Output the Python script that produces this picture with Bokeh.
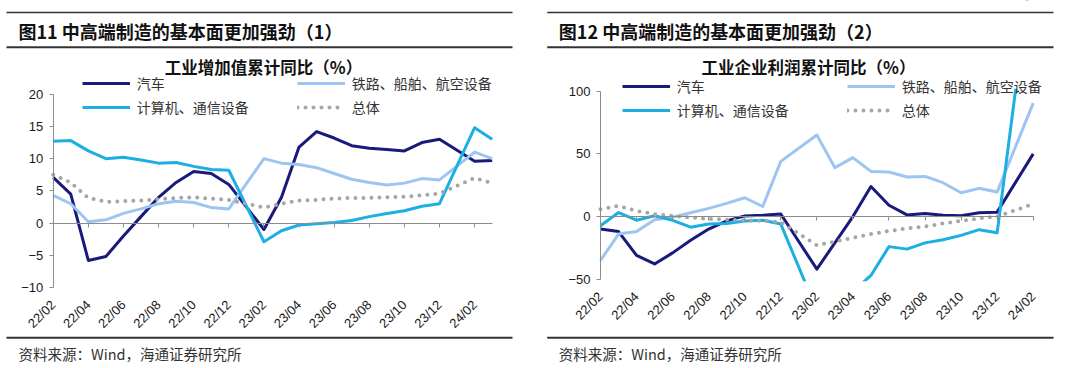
from math import pi
from bokeh.plotting import figure
from bokeh.models import (Range1d, LinearAxis, FixedTicker, Label,
                          Legend, LegendItem, BoxAnnotation, ColumnDataSource)
from bokeh.layouts import row
from bokeh.embed import file_html
from bokeh.resources import INLINE

# ---------------- data ----------------
left_title = "图11 中高端制造的基本面更加强劲（1）"
left_subtitle = "工业增加值累计同比（%）"
left_months = ["22/02", "22/03", "22/04", "22/05", "22/06", "22/07", "22/08", "22/09", "22/10", "22/11", "22/12",
               "23/02", "23/03", "23/04", "23/05", "23/06", "23/07", "23/08", "23/09", "23/10", "23/11", "23/12",
               "24/02", "24/03"]
left_auto = [7.1, 4.5, -5.8, -5.2, -2.0, 1.0, 4.0, 6.3, 8.0, 7.7, 6.0,
             -1.0, 4.0, 11.8, 14.2, 13.2, 12.0, 11.6, 11.4, 11.2, 12.5, 13.0,
             9.6, 9.7]
left_rail = [4.3, 3.0, 0.2, 0.5, 1.5, 2.2, 3.0, 3.4, 3.2, 2.4, 2.2,
             10.0, 9.3, 9.1, 8.6, 7.7, 6.8, 6.3, 5.9, 6.2, 6.9, 6.7,
             11.0, 10.0]
left_it = [12.7, 12.8, 11.2, 10.0, 10.2, 9.8, 9.3, 9.4, 8.8, 8.3, 8.2,
           -2.9, -1.2, -0.3, -0.1, 0.1, 0.4, 1.0, 1.5, 1.9, 2.6, 3.0,
           14.8, 13.0]
left_total = [7.5, 6.3, 3.9, 3.3, 3.4, 3.5, 3.7, 3.9, 4.0, 3.8, 3.6,
              2.4, 3.0, 3.5, 3.6, 3.8, 3.9, 3.9, 4.0, 4.1, 4.3, 4.6,
              7.0, 6.2]
left_yticks = [-10, -5, 0, 5, 10, 15, 20]

right_title = "图12 中高端制造的基本面更加强劲（2）"
right_subtitle = "工业企业利润累计同比（%）"
right_months = ["22/02", "22/03", "22/04", "22/05", "22/06", "22/07", "22/08", "22/09", "22/10", "22/11", "22/12",
                "23/02", "23/03", "23/04", "23/05", "23/06", "23/07", "23/08", "23/09", "23/10", "23/11", "23/12",
                "24/02"]
right_auto = [-10, -12, -31, -37.8, -29, -19, -10, -3.5, 0.5, 1.0, 2.0,
              -42, -21, 0, 24, 9, 1.3, 2.4, 1.0, 0.6, 3.0, 3.5,
              50]
right_rail = [-35, -14, -12, -2.5, -0.5, 3, 6.5, 10.5, 15, 8, 44,
              65, 39, 47, 36, 35.5, 31.5, 32, 27, 19, 22.5, 19.5,
              90.5]
right_it = [-7.4, 3.2, -2.9, 0.6, -3, -8.5, -6, -5.5, -3.5, -3, -6,
            -75, -58, -60, -47, -24, -26, -21, -18.5, -15, -10.5, -13,
            210]
right_total = [5.9, 8.5, 4.5, 1.9, 0.6, -0.8, -1.8, -2.6, -3.0, -3.4, -4.5,
               -22.9, -20, -17, -14, -11.5, -9.5, -8, -5.5, -3.5, -1.5, 0,
               10]
right_yticks = [-50, 0, 50, 100]

tick_labels = ["22/02", "22/04", "22/06", "22/08", "22/10", "22/12", "23/02",
               "23/04", "23/06", "23/08", "23/10", "23/12", "24/02"]

names = ["汽车", "铁路、船舶、航空设备", "计算机、通信设备", "总体"]
source_text = "资料来源：Wind，海通证券研究所"

# ---------------- styling ----------------
NAVY = "#1A1A7C"
LIGHT = "#9DC5F2"
CYAN = "#1CAFE3"
GRAY = "#A6A6A6"
AXIS = "#8C8C8C"
RULE = "#333333"
CJK = "Noto Sans CJK SC"
LAT = "Liberation Sans"

FW, FH = 538, 366


def line_style(color, dotted):
    if dotted:
        return dict(line_color=color, line_width=4, line_dash="0 8", line_cap="round")
    return dict(line_color=color, line_width=3, line_join="round")


def midx(m):
    yy, mm = m.split("/")
    return (int(yy) - 22) * 12 + int(mm) - 2


def make_panel(title, subtitle, months, series, yticks, ylo, yhi,
               ox, X0, X1, Y_hi, Y_lo, legA_x, legB_x, row1_c, row2_c,
               sub_x, title_x, rule_x1, rule_x2):
    xs = [midx(m) for m in months]
    xmax = max(xs)
    sx = (X1 - X0) / xmax
    sy = (Y_lo - Y_hi) / (yhi - ylo)

    def dx(X):
        return (X - X0) / sx

    def dy(Y):
        return ylo + (Y_lo - Y) / sy

    p = figure(width=FW, height=FH, output_backend="svg", toolbar_location=None,
               x_range=Range1d(dx(ox), dx(ox + FW)), y_range=Range1d(dy(FH), dy(0)),
               x_axis_type=None, y_axis_type=None, min_border=0)
    if p.title is not None:
        p.title.visible = False
    p.outline_line_color = None
    p.background_fill_color = "white"
    p.border_fill_color = "white"

    # data lines
    rs = []
    for (name, vals, color, dotted) in series:
        src = ColumnDataSource(dict(x=xs, y=vals))
        rs.append((name, p.line("x", "y", source=src, **line_style(color, dotted))))

    # white masks outside the plot area (Excel clips the series at the plot-area edges)
    p.add_layout(BoxAnnotation(left=0, right=xmax + 0.5, bottom=dy(Y_hi - 2.5), top=dy(0),
                               fill_color="white", fill_alpha=1, line_color=None,
                               level="guide"))
    p.add_layout(BoxAnnotation(left=0, right=xmax + 0.5, bottom=dy(FH), top=dy(Y_lo + 2),
                               fill_color="white", fill_alpha=1, line_color=None,
                               level="guide"))

    # y axis
    yaxis = LinearAxis(ticker=FixedTicker(ticks=yticks), bounds=(ylo, yhi), fixed_location=0)
    yaxis.level = "annotation"
    yaxis.axis_line_color = AXIS
    yaxis.major_tick_line_color = AXIS
    yaxis.major_tick_out = 4
    yaxis.major_tick_in = 0
    yaxis.minor_tick_line_color = None
    yaxis.major_label_text_font = LAT
    yaxis.major_label_text_font_size = "13px"
    yaxis.major_label_text_color = "#1a1a1a"
    yaxis.major_label_standoff = 6
    p.add_layout(yaxis, "left")

    tx = [midx(t) for t in tick_labels]
    # horizontal axis line crossing at zero, with tick marks
    zaxis = LinearAxis(ticker=FixedTicker(ticks=tx), bounds=(0, xmax), fixed_location=0,
                       major_label_overrides={v: "" for v in tx})
    zaxis.level = "annotation"
    zaxis.axis_line_color = AXIS
    zaxis.major_tick_line_color = AXIS
    zaxis.major_tick_out = 4
    zaxis.major_tick_in = 0
    zaxis.minor_tick_line_color = None
    p.add_layout(zaxis, "below")

    # category labels at the bottom of the plot area
    xaxis = LinearAxis(ticker=FixedTicker(ticks=tx), fixed_location=ylo,
                       major_label_overrides={v: t for v, t in zip(tx, tick_labels)})
    xaxis.level = "annotation"
    xaxis.axis_line_color = None
    xaxis.major_tick_line_color = None
    xaxis.major_tick_out = 0
    xaxis.major_tick_in = 0
    xaxis.minor_tick_line_color = None
    xaxis.major_label_orientation = pi / 4
    xaxis.major_label_text_font = LAT
    xaxis.major_label_text_font_size = "13px"
    xaxis.major_label_text_color = "#1a1a1a"
    xaxis.major_label_standoff = 15
    p.add_layout(xaxis, "below")

    # legends (one item each, placed like the Excel legend grid)
    def legend(item, X, row_c):
        name, r = item
        lg = Legend(items=[LegendItem(label=name, renderers=[r])],
                    location=(X - ox, FH - (row_c + 10)), orientation="horizontal",
                    glyph_width=48, glyph_height=20, label_height=20,
                    label_standoff=7, spacing=0, padding=0, margin=0,
                    border_line_alpha=0, background_fill_alpha=0,
                    label_text_font=CJK, label_text_font_size="14px",
                    label_text_color="#333333")
        p.add_layout(lg)

    legend(rs[0], legA_x, row1_c)
    legend(rs[1], legB_x, row1_c)
    legend(rs[2], legA_x, row2_c)
    legend(rs[3], legB_x, row2_c)

    # rules
    for (y1, y2) in [(11.3, 12.8), (45.8, 47.8), (336.3, 338.3)]:
        p.add_layout(BoxAnnotation(left=dx(rule_x1), right=dx(rule_x2), top=dy(y1), bottom=dy(y2),
                                   fill_color=RULE, fill_alpha=1, line_color=None))

    # texts
    p.add_layout(Label(x=dx(title_x), y=dy(30), text=title, text_align="left",
                       text_baseline="middle", text_font=CJK, text_font_size="18px",
                       text_font_style="bold", text_color="#111111"))
    p.add_layout(Label(x=dx(sub_x), y=dy(66.7), text=subtitle, text_align="center",
                       text_baseline="middle", text_font=CJK, text_font_size="16.5px",
                       text_font_style="bold", text_color="#111111"))
    p.add_layout(Label(x=dx(title_x), y=dy(353), text=source_text, text_align="left",
                       text_baseline="middle", text_font=CJK, text_font_size="14.5px",
                       text_color="#333333"))
    return p


left_series = [(names[0], left_auto, NAVY, False),
               (names[1], left_rail, LIGHT, False),
               (names[2], left_it, CYAN, False),
               (names[3], left_total, GRAY, True)]
right_series = [(names[0], right_auto, NAVY, False),
                (names[1], right_rail, LIGHT, False),
                (names[2], right_it, CYAN, False),
                (names[3], right_total, GRAY, True)]

p1 = make_panel(left_title, left_subtitle, left_months, left_series, left_yticks, -10, 20,
                ox=0, X0=52.7, X1=491.7, Y_hi=93.7, Y_lo=287,
                legA_x=81.7, legB_x=296.7, row1_c=83.3, row2_c=106.7,
                sub_x=263, title_x=18, rule_x1=6, rule_x2=512)
p2 = make_panel(right_title, right_subtitle, right_months, right_series, right_yticks, -50, 100,
                ox=FW, X0=600, X1=1032.7, Y_hi=90.7, Y_lo=278.7,
                legA_x=621.7, legB_x=846.7, row1_c=86, row2_c=110,
                sub_x=808, title_x=558.3, rule_x1=546.7, rule_x2=1053)

layout = row(p1, p2)
open("out.html", "w").write(file_html(layout, INLINE))
